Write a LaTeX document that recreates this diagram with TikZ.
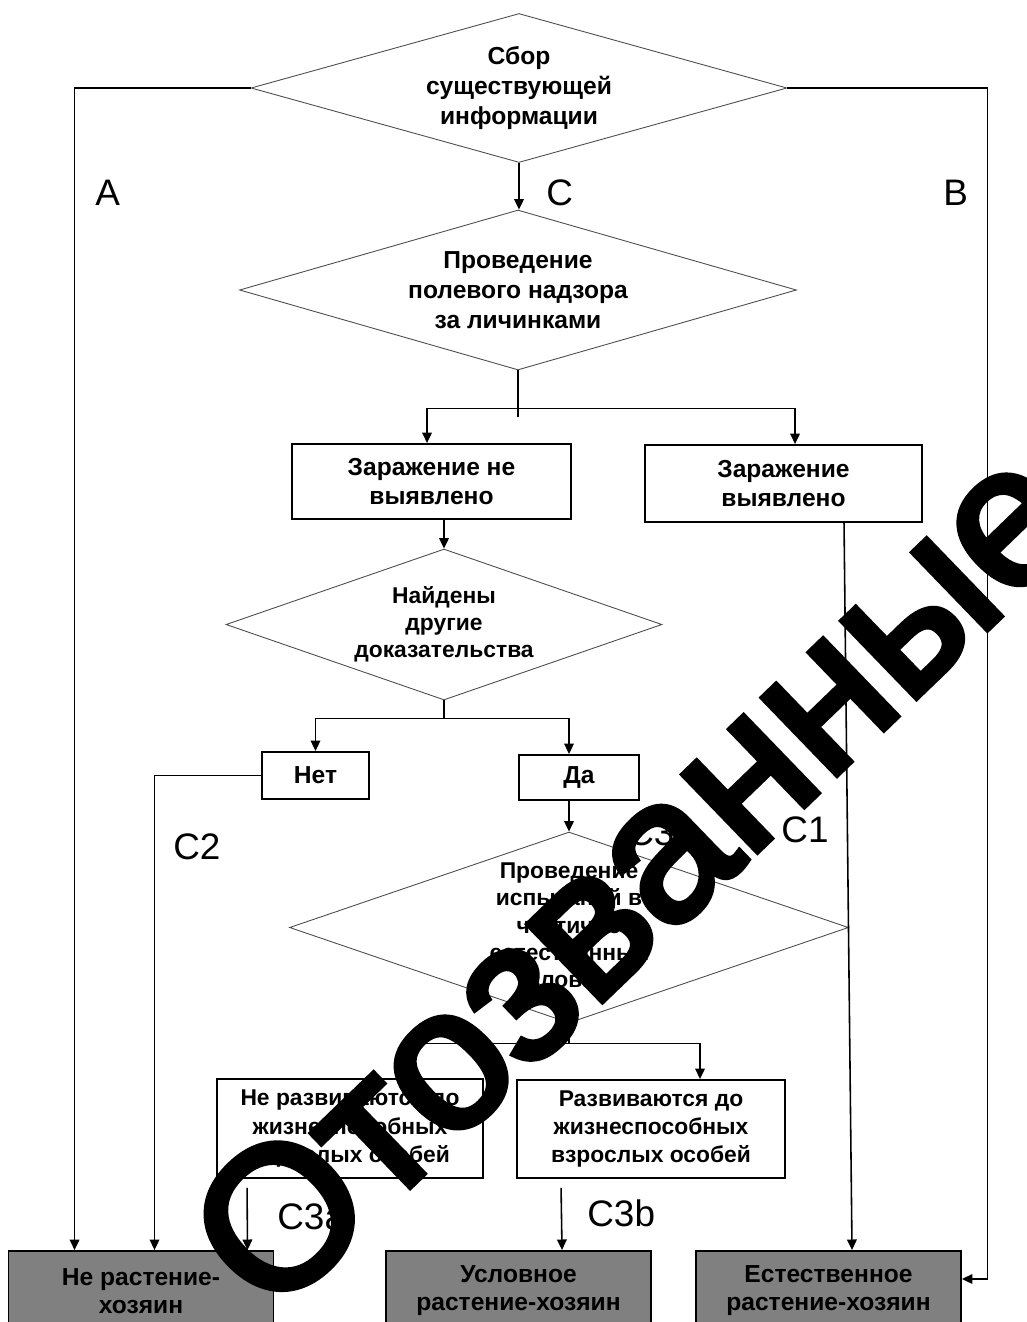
\documentclass[tikz,border=0pt]{standalone}
\usepackage{fontspec}
\setmainfont{Liberation Sans}
\newfontfamily\stampfont[FakeBold=3.5]{Liberation Sans}
\usetikzlibrary{shapes.geometric,arrows.meta,positioning}

\begin{document}
\begin{tikzpicture}[
    x=0.02cm, y=-0.02cm,
    box/.style={rectangle, draw, line width=1.1pt, align=center, inner sep=0pt, font=\bfseries\fontsize{14}{16}\selectfont},
    smallbox/.style={box, font=\bfseries\fontsize{13}{16}\selectfont},
    hostbox/.style={box, fill=gray, minimum width=5.3cm, minimum height=1.6cm},
    decision/.style={diamond, draw=black!70, line width=0.5pt, inner sep=0pt},
    dtext/.style={align=center, font=\bfseries\fontsize{14}{17}\selectfont},
    dsmall/.style={align=center, font=\bfseries\fontsize{13}{15.5}\selectfont},
    arrow/.style={-{Triangle[length=6pt,width=5.5pt]}, line width=0.9pt},
    link/.style={line width=0.9pt},
    lbl/.style={anchor=west, inner sep=0pt, font=\fontsize{21}{24}\selectfont}
]
    \useasboundingbox (0,0) rectangle (1027,1322);
    \clip (0,0) rectangle (1027,1322);

    \node[decision, minimum width=10.72cm, minimum height=2.98cm, label={[dtext]center:Сбор\\существующей\\информации}] (collect) at (519,88) {};
    \node[decision, minimum width=11.14cm, minimum height=3.2cm, label={[dtext]center:Проведение\\полевого надзора\\за личинками}] (survey) at (518,290) {};
    \node[box, minimum width=5.58cm, minimum height=1.5cm] (notfound) at (431.5,481.5) {Заражение не\\выявлено};
    \node[box, minimum width=5.54cm, minimum height=1.54cm] (found) at (783.5,483.5) {Заражение\\выявлено};
    \node[decision, minimum width=8.72cm, minimum height=3.02cm, label={[dsmall]center:Найдены\\другие\\доказательства}] (evidence) at (444,624.5) {};
    \node[box, minimum width=2.14cm, minimum height=0.94cm] (no) at (315.5,775.5) {Нет};
    \node[box, minimum width=2.4cm, minimum height=0.9cm] (yes) at (579,777.5) {Да};
    \node[decision, minimum width=11.18cm, minimum height=3.82cm, label={[dsmall]center:Проведение\\испытаний в\\частично\\естественных\\условиях}] (trial) at (569,927.5) {};
    \node[smallbox, minimum width=5.32cm, minimum height=1.98cm] (nodevelop) at (350,1128.5) {Не развиваются до\\жизнеспособных\\взрослых особей};
    \node[smallbox, minimum width=5.36cm, minimum height=1.96cm] (develop) at (651,1129) {Развиваются до\\жизнеспособных\\взрослых особей};
    \node[hostbox] (nonhost) at (141,1291) {Не растение-\\хозяин};
    \node[hostbox] (conditional) at (518.5,1291) {Условное\\растение-хозяин};
    \node[hostbox] (natural) at (828.5,1291) {Естественное\\растение-хозяин};

    \draw[arrow] (collect.west) -| ([xshift=1.34cm]nonhost.north west);
    \draw[arrow] (collect.east) -- ++(200,0) |- ([yshift=0.24cm]natural.east);
    \draw[arrow] (collect.south) -- (collect.south |- survey.north);

    \coordinate (split1) at ([yshift=-0.76cm]survey.south);
    \draw[link] (survey.south) -- ++(0,47);
    \draw[arrow] (split1) -| ([xshift=2.72cm]notfound.north west);
    \draw[arrow] (split1) -| ([xshift=3.02cm]found.north west);

    \draw[arrow] (notfound.south -| evidence.north) -- (evidence.north);
    \coordinate (split2) at ([yshift=-0.36cm]evidence.south);
    \draw[link] (evidence.south) -- (split2);
    \draw[arrow] (split2) -| (no.north);
    \draw[arrow] (split2) -| (yes.north -| trial.north);
    \draw[arrow] (no.west) -| ([xshift=2.94cm]nonhost.north west);
    \draw[arrow] (yes.south -| trial.north) -- (trial.north);
    \draw[arrow] ([xshift=4cm]found.south west) -- ([xshift=3.14cm]natural.north west);

    \coordinate (split3) at ([yshift=-0.4cm]trial.south);
    \draw[link] (trial.south) -- (split3);
    \draw[arrow] (split3) -| ([xshift=3.9cm]nodevelop.north west);
    \draw[arrow] (split3) -| ([xshift=3.68cm]develop.north west);
    \draw[arrow] ([xshift=0.62cm,yshift=-0.18cm]nodevelop.south west) -- ([xshift=4.8cm]nonhost.north west);
    \draw[arrow] ([xshift=0.9cm,yshift=-0.18cm]develop.south west) -- ([xshift=3.54cm]conditional.north west);

    \node[lbl] (la) at (95,193) {A};
    \node[lbl] (lc) at (546,193) {C};
    \node[lbl] (lb) at (943,193) {B};
    \node[lbl] (lc1) at (781,830) {C1};
    \node[lbl] (lc2) at (173,847) {C2};
    \node[lbl] (lc3) at (627,833) {C3};
    \node[lbl] (lc3a) at (277,1217) {C3a};
    \node[lbl] (lc3b) at (587,1213) {C3b};

    \node[rotate=44, inner sep=0pt, font=\stampfont\fontsize{114}{114}\selectfont] (stamp) at (633,875) {Отозванные};
\end{tikzpicture}
\end{document}
